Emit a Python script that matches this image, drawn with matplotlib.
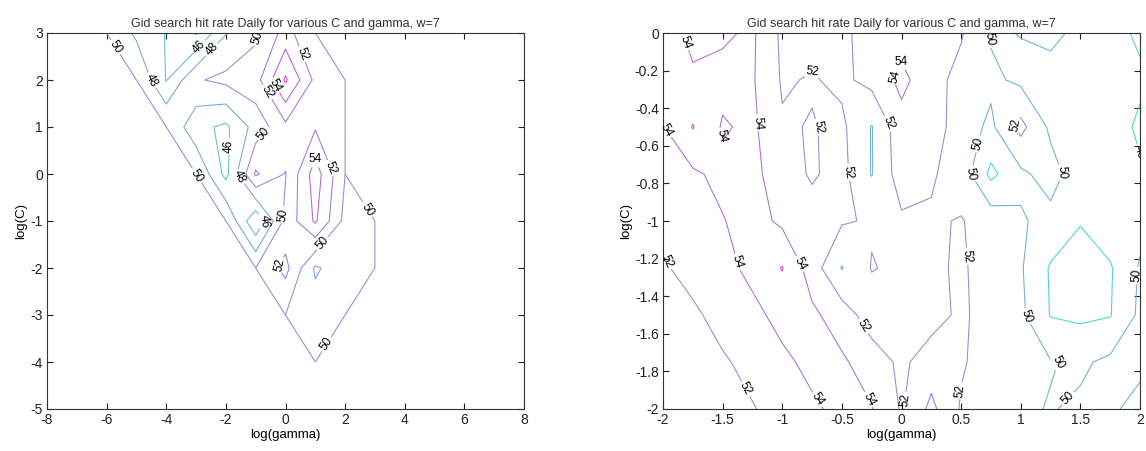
import numpy as np
import matplotlib.pyplot as plt

plt.rcParams['font.family'] = ['Liberation Sans', 'DejaVu Sans']
plt.rcParams['axes.unicode_minus'] = False

# coarse search (left): log(gamma) -8..8, log(C) -5..3
gamma_wide = np.arange(-8, 9, 1.0)
logc_wide = np.arange(-5, 4, 1.0)

# hit rate (%) rows from log(C)=3 down to log(C)=-5; the untried corners sit at 50
B = 50.0
rate_wide = np.array([
    # -8 -7 -6  -5    -4    -3    -2    -1    0     1     2     3  4  5  6  7  8
    [B,  B, B,  47.6, 45.9, 43.8, 47.9, 49.6, 52.8, B,    B,    B, B, B, B, B, B],  # 3
    [B,  B, B,  B,    45.9, 49.8, 50.5, 51.2, 56.3, 51.5, B,    B, B, B, B, B, B],  # 2
    [B,  B, B,  B,    B,    46.6, 45.6, 48.8, 51.5, 51.8, B,    B, B, B, B, B, B],  # 1
    [B,  B, B,  B,    B,    B,    45.4, 52.3, 49.9, 55.0, B,    B, B, B, B, B, B],  # 0
    [B,  B, B,  B,    B,    B,    B,    44.2, 50.6, 54.3, 49.4, B, B, B, B, B, B],  # -1
    [B,  B, B,  B,    B,    B,    B,    B,    52.6, 47.7, 49.2, B, B, B, B, B, B],  # -2
    [B,  B, B,  B,    B,    B,    B,    B,    B,    49.0, B,    B, B, B, B, B, B],  # -3
    [B,  B, B,  B,    B,    B,    B,    B,    B,    B,    B,    B, B, B, B, B, B],  # -4
    [B,  B, B,  B,    B,    B,    B,    B,    B,    B,    B,    B, B, B, B, B, B],  # -5
])[::-1]

# fine search (right): log(gamma) -2..2, log(C) -2..0, rows from log(C)=0 down
gamma_fine = np.arange(-2, 2.01, 0.25)
logc_fine = np.arange(-2, 0.01, 0.25)
rate_fine = np.array([
    [55.0, 53.5, 53.7, 54.3, 51.6, 51.3, 51.8, 52.4, 53.2, 52.6, 52.2, 49.8, 50.05, 50.5, 49.5, 48.8, 47.6],
    [54.6, 54.3, 54.6, 54.2, 51.8, 52.15, 51.6, 52.6, 54.5, 52.8, 51.3, 50.4, 49.6, 49.2, 49.1, 48.9, 48.4],
    [53.9, 56.1, 53.8, 54.4, 52.2, 51.9, 52.4, 49.9, 53.3, 53.0, 51.0, 49.6, 52.6, 49.6, 49.0, 49.1, 47.6],
    [53.2, 53.7, 54.5, 54.6, 52.8, 51.8, 52.6, 49.9, 53.0, 52.2, 51.2, 47.5, 49.6, 50.8, 48.8, 49.0, 48.3],
    [52.4, 53.0, 53.9, 54.8, 53.6, 52.7, 52.2, 51.8, 51.7, 51.8, 52.1, 51.2, 50.2, 49.4, 48.1, 49.2, 49.4],
    [51.8, 52.6, 53.4, 54.5, 56.1, 53.0, 49.9, 52.1, 51.6, 51.6, 52.3, 51.0, 50.2, 47.8, 47.2, 47.8, 50.2],
    [51.5, 51.7, 52.6, 53.5, 54.6, 54.4, 53.0, 51.0, 51.5, 51.2, 52.4, 51.0, 50.4, 47.9, 47.6, 47.9, 50.4],
    [51.3, 51.4, 51.8, 52.5, 53.6, 54.5, 54.3, 53.0, 51.6, 53.0, 52.2, 51.2, 50.1, 50.1, 49.7, 50.4, 50.3],
    [51.2, 51.3, 51.5, 51.9, 52.6, 53.7, 54.5, 54.1, 51.8, 54.5, 51.8, 50.8, 50.3, 49.9, 50.3, 50.2, 49.6],
])[::-1]

levels_wide = [44, 46, 48, 50, 52, 54, 56]
levels_fine = [48, 50, 52, 54, 56]

# inline label spots; 'lo' = the 50 line on the low side of the flat region
labels_wide = [(-5.66, 2.72, 'lo'), (-4.44, 2.01, 'm'), (-2.79, 2.65, 'm'), (-2.48, 2.65, 'm'),
               (-0.83, 2.87, 'hi'), (0.39, 2.51, 'm'), (-0.83, 1.66, 'm'), (-0.40, 1.87, 'm'),
               (-0.83, 0.91, 'hi'), (-1.99, 0.59, 'm'), (-2.91, -0.01, 'lo'), (-1.69, -0.12, 'm'),
               (1.0, 0.45, 'm'), (1.37, 0.09, 'm'), (-0.59, -1.0, 'm'), (-0.1, -0.87, 'hi'),
               (-0.22, -1.93, 'm'), (1.37, -1.54, 'hi'), (2.47, -0.87, 'lo'), (1.43, -3.64, 'lo')]
labels_fine = [(-1.91, -0.07), (-0.80, -0.10), (0.12, -0.07), (0.78, -0.03), (-0.06, -0.23),
               (-1.98, -0.52), (-1.59, -0.56), (-1.24, -0.48), (-0.65, -0.50), (-0.17, -0.50),
               (-0.39, -0.74), (0.49, -0.76), (0.70, -0.60), (0.93, -0.48), (1.36, -0.74),
               (1.97, -0.64), (-1.98, -1.22), (-1.33, -1.21), (-0.89, -1.24), (0.50, -1.19),
               (-0.22, -1.52), (1.04, -1.51), (1.94, -1.29), (1.37, -1.70), (-1.27, -1.88),
               (-0.66, -1.93), (-0.22, -1.93), (0.01, -1.95), (0.44, -1.90), (1.46, -1.98)]

title = 'Gid search hit rate Daily for various C and gamma, w=7'


def level_colors(levels):
    # 'cool' map over the level range, washed out a bit
    cmap = plt.get_cmap('cool')
    lo, hi = min(levels), max(levels)
    out = {}
    for lv in levels:
        r, g, b, _ = cmap((lv - lo) / (hi - lo))
        out[lv] = (0.28 + 0.55 * r, 0.28 + 0.55 * g, 0.38 + 0.45 * b)
    return out


def label(ax, cs, spots):
    if cs is not None and len(spots):
        ax.clabel(cs, fmt=lambda v: '%d' % round(v), fontsize=8.5, colors='k',
                  inline=True, inline_spacing=2, manual=spots)


def style(ax):
    ax.set_title(title, fontsize=9, color='#333333', pad=4)
    ax.set_xlabel('log(gamma)', fontsize=9.5, labelpad=1)
    ax.set_ylabel('log(C)', fontsize=9.5, labelpad=2)
    ax.tick_params(direction='in', top=True, right=True, length=4,
                   labelsize=10, pad=3, colors='#222222')
    for s in ax.spines.values():
        s.set_linewidth(0.8)
        s.set_color('#333333')


fig = plt.figure(figsize=(11.46, 4.51), dpi=100)
ax1 = fig.add_axes([47 / 1146, 42 / 451, 477 / 1146, 376 / 451])
ax2 = fig.add_axes([663 / 1146, 42 / 451, 477 / 1146, 376 / 451])

# left: the flat 50 region needs the 50 line on both of its sides
cols = level_colors(levels_wide)
lw = 0.75
main_lv = [lv for lv in levels_wide if lv != 50]
cs_main = ax1.contour(gamma_wide, logc_wide, rate_wide, levels=main_lv,
                      colors=[cols[lv] for lv in main_lv], linewidths=lw)
cs_hi = ax1.contour(gamma_wide, logc_wide, rate_wide, levels=[50.001],
                    colors=[cols[50]], linewidths=lw)
low_side = np.ma.masked_where(rate_wide > 50.001, rate_wide)
cs_lo = ax1.contour(gamma_wide, logc_wide, low_side, levels=[49.999],
                    colors=[cols[50]], linewidths=lw)
label(ax1, cs_main, [(x, y) for x, y, k in labels_wide if k == 'm'])
label(ax1, cs_hi, [(x, y) for x, y, k in labels_wide if k == 'hi'])
label(ax1, cs_lo, [(x, y) for x, y, k in labels_wide if k == 'lo'])
style(ax1)
ax1.set_xlim(-8, 8)
ax1.set_ylim(-5, 3)
ax1.set_xticks(np.arange(-8, 9, 2))
ax1.set_yticks(np.arange(-5, 4, 1))

cols = level_colors(levels_fine)
cs_fine = ax2.contour(gamma_fine, logc_fine, rate_fine, levels=levels_fine,
                      colors=[cols[lv] for lv in levels_fine], linewidths=lw)
label(ax2, cs_fine, labels_fine)
style(ax2)
ax2.set_xlim(-2, 2)
ax2.set_ylim(-2, 0)
ax2.set_xticks(np.arange(-2, 2.01, 0.5))
ax2.set_xticklabels(['-2', '-1.5', '-1', '-0.5', '0', '0.5', '1', '1.5', '2'])
ax2.set_yticks(np.arange(-2, 0.01, 0.2))
ax2.set_yticklabels(['-2', '-1.8', '-1.6', '-1.4', '-1.2', '-1', '-0.8', '-0.6',
                     '-0.4', '-0.2', '0'])

fig.savefig('out.png', dpi=100)
